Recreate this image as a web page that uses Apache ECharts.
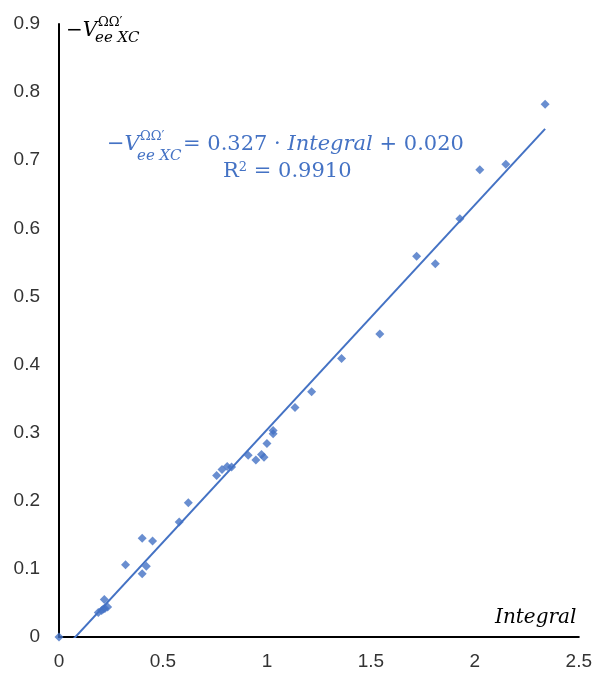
<!DOCTYPE html>
<html>
<head>
<meta charset="utf-8">
<script src="https://cdn.jsdelivr.net/npm/echarts@6/dist/echarts.min.js"></script>
<style>
  html, body { margin: 0; padding: 0; background: #ffffff; }
  #chart { width: 595px; height: 673px; }
</style>
</head>
<body>
<div id="chart"></div>
<script>
// Integral values (x) and the matching −V_ee,XC values (y)
const integralVals = [0, 0.189, 0.205, 0.213, 0.221, 0.234, 0.218, 0.32, 0.40, 0.45, 0.42, 0.40,
  0.578, 0.622, 0.758, 0.784, 0.809, 0.830, 0.910, 0.947, 0.974, 0.986, 1.00, 1.03, 1.03,
  1.135, 1.215, 1.359, 1.543, 1.72, 1.81, 1.928, 2.024, 2.149, 2.338];
const vxcVals = [0, 0.036, 0.039, 0.041, 0.042, 0.044, 0.055, 0.106, 0.145, 0.141, 0.104, 0.093,
  0.169, 0.197, 0.237, 0.246, 0.2505, 0.2495, 0.267, 0.260, 0.268, 0.264, 0.284, 0.303, 0.2985,
  0.337, 0.360, 0.409, 0.445, 0.559, 0.548, 0.614, 0.686, 0.694, 0.782];

const xTicks = { min: 0, max: 2.5, step: 0.5 };
const yTicks = { min: 0, max: 0.9, step: 0.1 };

const BLUE = '#4472C4';

// Least-squares trend line through the scatter points
function linearFit(xs, ys) {
  const n = xs.length;
  let sx = 0, sy = 0, sxx = 0, sxy = 0;
  for (let i = 0; i < n; i++) {
    sx += xs[i]; sy += ys[i]; sxx += xs[i] * xs[i]; sxy += xs[i] * ys[i];
  }
  const slope = (n * sxy - sx * sy) / (n * sxx - sx * sx);
  const intercept = (sy - slope * sx) / n;
  return { slope, intercept };
}
const fit = linearFit(integralVals, vxcVals);
const xLo = Math.min(...integralVals);
const xHi = Math.max(...integralVals);
const trendPts = [[xLo, fit.slope * xLo + fit.intercept], [xHi, fit.slope * xHi + fit.intercept]];

const points = integralVals.map((x, i) => [x, vxcVals[i]]);

const serif = '"DejaVu Serif", serif';
const tickFont = { fontFamily: '"Liberation Sans", Arial, sans-serif', fontSize: 19, color: '#333333' };

const chart = echarts.init(document.getElementById('chart'), null, { renderer: 'canvas' });
chart.setOption({
  animation: false,
  backgroundColor: '#ffffff',
  grid: { left: 59, right: 16, top: 24, bottom: 36 },
  xAxis: {
    type: 'value', min: xTicks.min, max: xTicks.max, interval: xTicks.step,
    axisLine: { show: true, lineStyle: { color: '#000000', width: 2 } },
    axisTick: { show: false },
    splitLine: { show: false },
    axisLabel: Object.assign({ margin: 15 }, tickFont)
  },
  yAxis: {
    type: 'value', min: yTicks.min, max: yTicks.max, interval: yTicks.step,
    axisLine: { show: true, lineStyle: { color: '#000000', width: 2 } },
    axisTick: { show: false },
    splitLine: { show: false },
    axisLabel: Object.assign({ margin: 19 }, tickFont)
  },
  series: [
    {
      type: 'line',
      data: trendPts,
      clip: true,
      symbol: 'none',
      lineStyle: { color: BLUE, width: 2 },
      z: 2
    },
    {
      type: 'scatter',
      data: points,
      symbol: 'diamond',
      symbolSize: 9,
      itemStyle: { color: BLUE },
      z: 3
    }
  ],
  graphic: [
    // y-axis title: −V_{ee XC}^{ΩΩ′}
    { type: 'text', left: 66, top: 21, style: { text: '−V', font: 'italic 20px ' + serif, fill: '#000' } },
    { type: 'text', left: 98, top: 16, style: { text: 'ΩΩ′', font: '13px ' + serif, fill: '#000' } },
    { type: 'text', left: 95, top: 31, style: { text: 'ee XC', font: 'italic 15px ' + serif, fill: '#000' } },
    // x-axis title
    { type: 'text', left: 495, top: 608, style: { text: 'Integral', font: 'italic 20px ' + serif, fill: '#000' } },
    // trend-line equation
    { type: 'text', left: 107, top: 134, style: { text: '−V', font: 'italic 21px ' + serif, fill: BLUE } },
    { type: 'text', left: 140, top: 130, style: { text: 'ΩΩ′', font: '13px ' + serif, fill: BLUE } },
    { type: 'text', left: 137, top: 149, style: { text: 'ee XC', font: 'italic 15px ' + serif, fill: BLUE } },
    { type: 'text', left: 183, top: 134, style: {
      text: '{n|= 0.327 · }{i|Integral}{n| + 0.020}',
      rich: {
        n: { font: '21px ' + serif, fill: BLUE },
        i: { font: 'italic 21px ' + serif, fill: BLUE }
      }
    } },
    { type: 'text', left: 223, top: 161, style: {
      text: '{n|R}{s|2}{n| = 0.9910}',
      rich: {
        n: { font: '21px ' + serif, fill: BLUE, verticalAlign: 'bottom' },
        s: { font: '13px ' + serif, fill: BLUE, verticalAlign: 'top' }
      }
    } }
  ]
});
</script>
</body>
</html>
